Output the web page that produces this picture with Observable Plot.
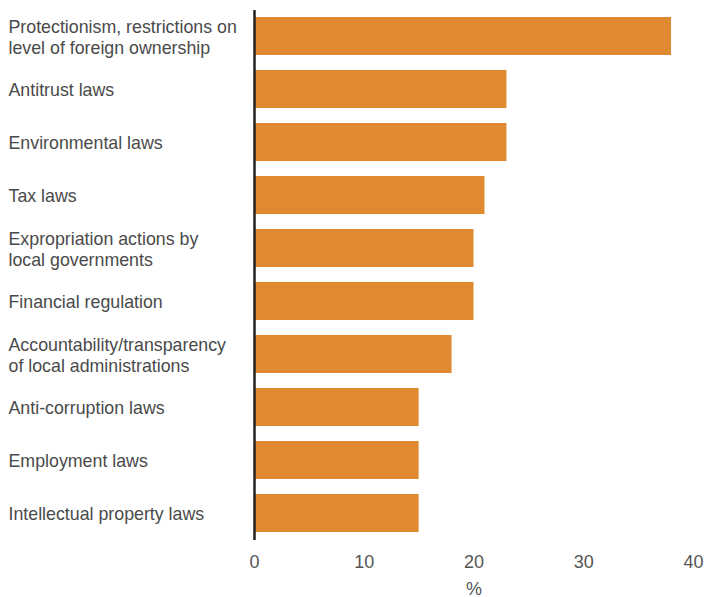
<!DOCTYPE html>
<html>
<head>
<meta charset="utf-8">
<script src="https://cdn.jsdelivr.net/npm/d3@7"></script>
<script src="https://cdn.jsdelivr.net/npm/@observablehq/plot@0.6"></script>
<style>
  html, body { margin: 0; padding: 0; background: #fff; }
  #chart svg { display: block; }
</style>
</head>
<body>
<div id="chart"></div>
<script>
const categories = [
  "Protectionism, restrictions on\nlevel of foreign ownership",
  "Antitrust laws",
  "Environmental laws",
  "Tax laws",
  "Expropriation actions by\nlocal governments",
  "Financial regulation",
  "Accountability/transparency\nof local administrations",
  "Anti-corruption laws",
  "Employment laws",
  "Intellectual property laws"
];
const values = [38, 23, 23, 21, 20, 20, 18, 15, 15, 15];
const xTicks = [0, 10, 20, 30, 40];
const axisLabel = "%";

const data = categories.map((c, i) => ({category: c, value: values[i]}));
const font = "'Liberation Sans', Arial, sans-serif";

const chart = Plot.plot({
  width: 705,
  height: 597,
  marginLeft: 254,
  marginRight: 12,
  marginTop: 10,
  marginBottom: 57,
  style: {fontFamily: font, background: "#fff"},
  x: {domain: [0, 40]},
  y: {domain: categories, paddingInner: 0.283, paddingOuter: 0.1415},
  marks: [
    Plot.barX(data, {x: "value", y: "category", fill: "#DF8931"}),
    Plot.ruleX([0], {stroke: "#222", strokeWidth: 2.5}),
    Plot.axisX({ticks: xTicks, tickSize: 0, tickPadding: 15, fontSize: 18, fill: "#555", label: null, tickFormat: d => String(d)}),
    Plot.axisY({ticks: [], label: null}),
    Plot.text(data, {y: "category", text: "category", frameAnchor: "left", dx: -246, textAnchor: "start", fontSize: 17.8, fill: "#4a4a4a", lineHeight: 1.18}),
    Plot.text([axisLabel], {text: d => d, frameAnchor: "bottom", dy: 54, fontSize: 18, fill: "#555"})
  ]
});
document.getElementById("chart").appendChild(chart);
</script>
</body>
</html>
